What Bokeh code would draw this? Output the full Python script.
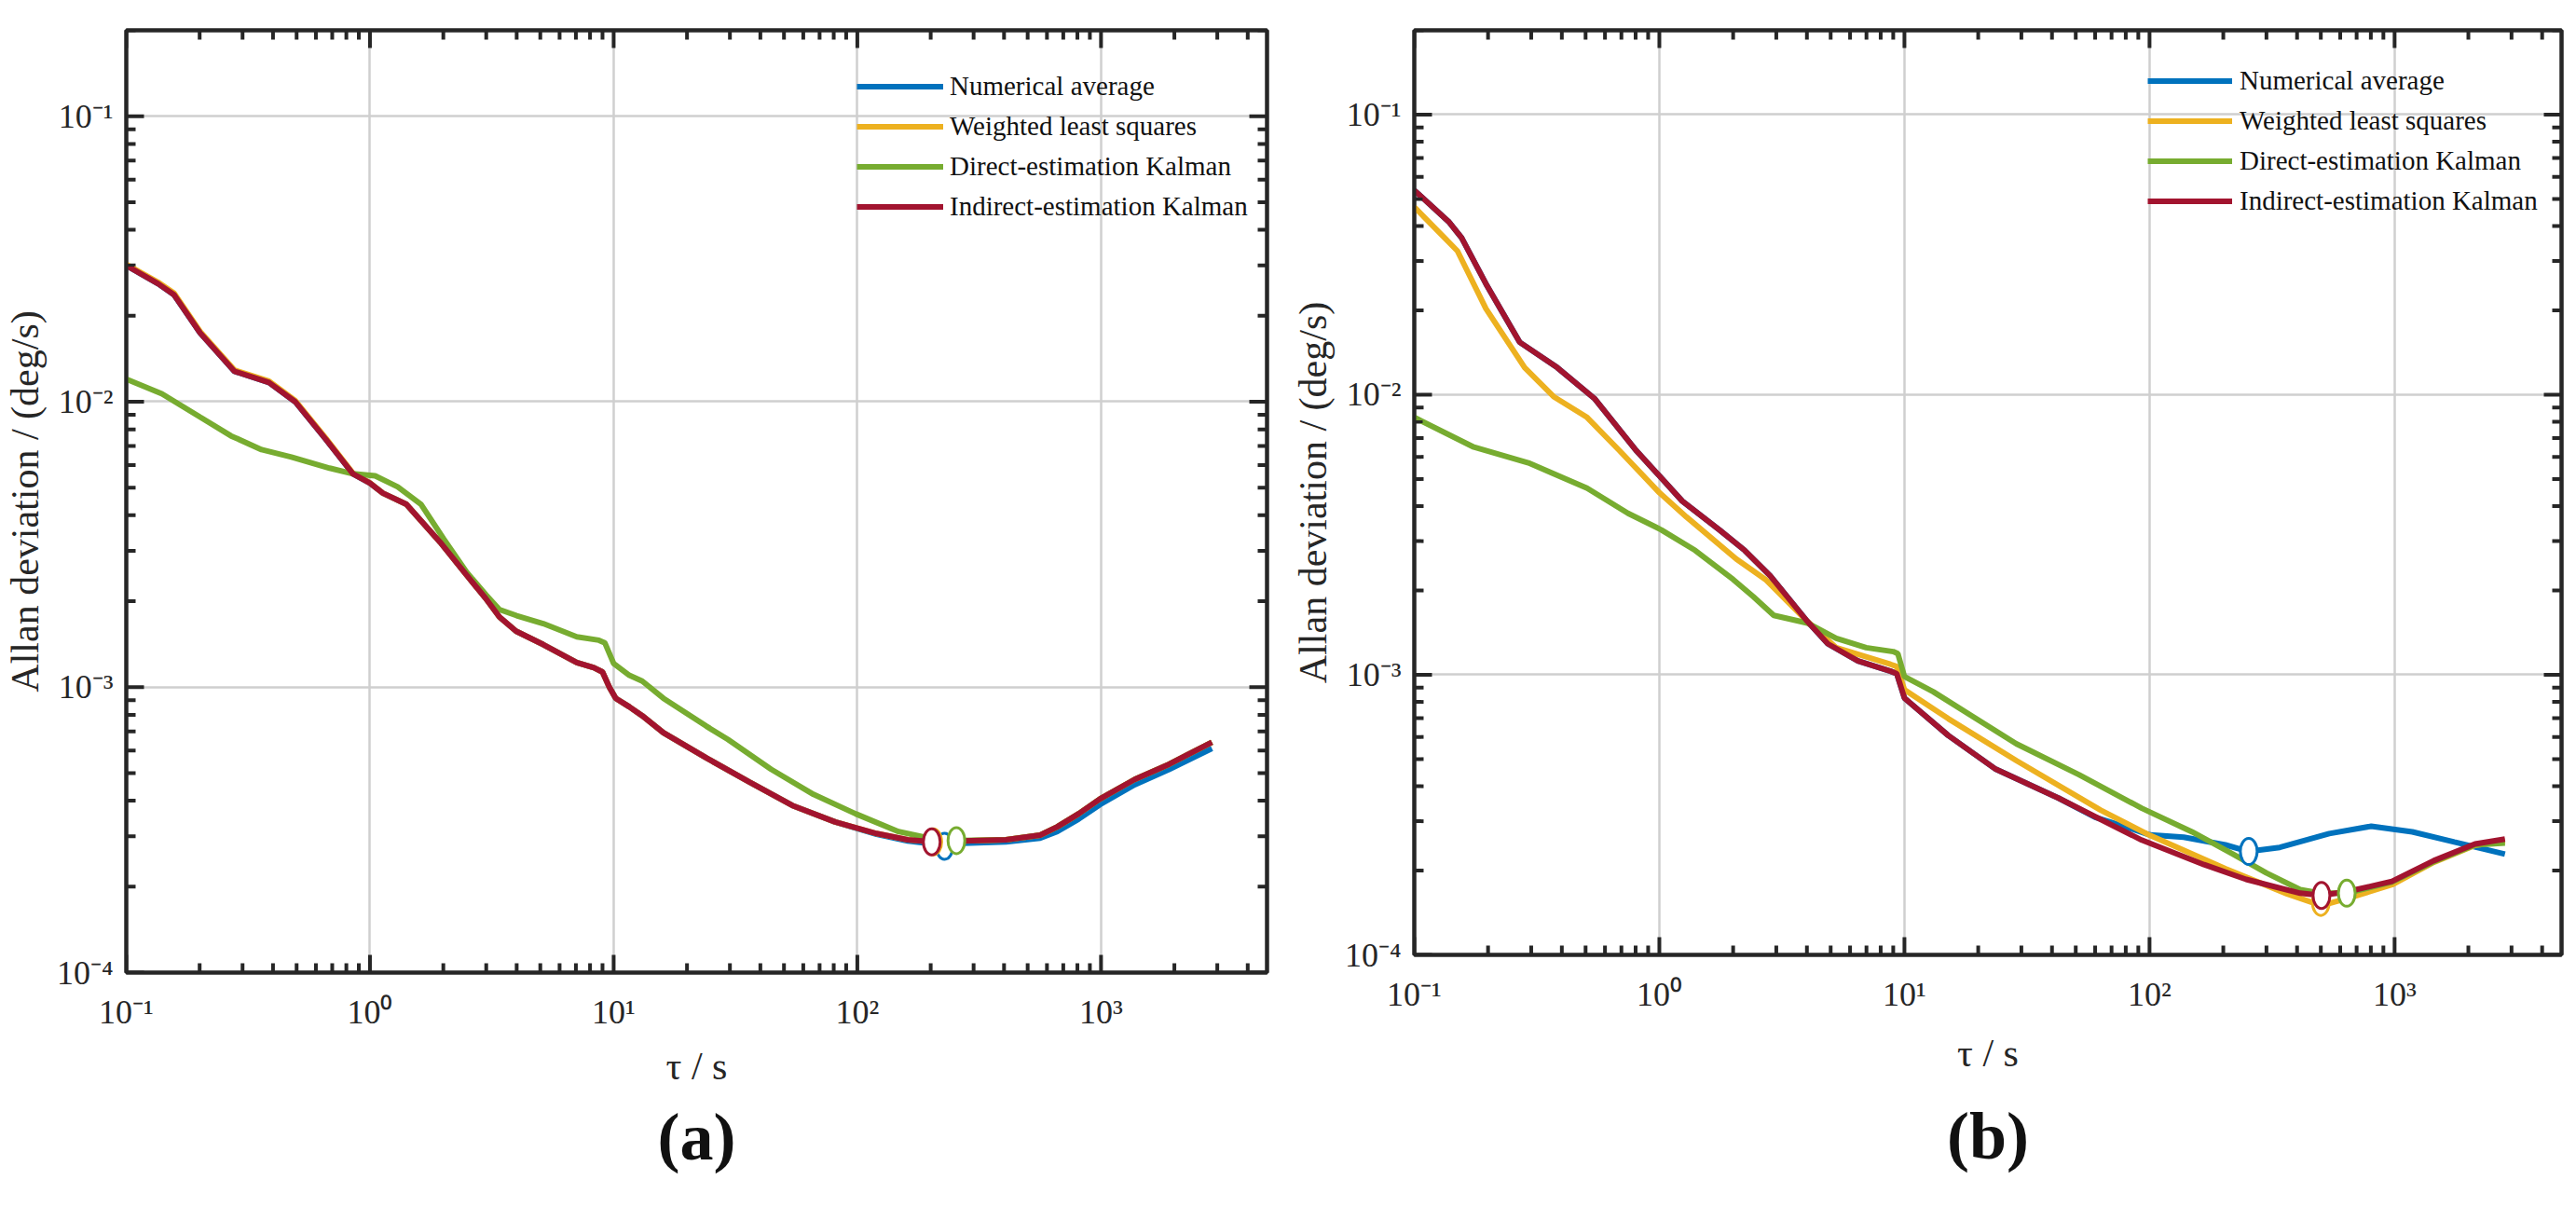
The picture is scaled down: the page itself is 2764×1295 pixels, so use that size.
from bokeh.plotting import figure
from bokeh.models import FixedTicker, LogAxis, Title
from bokeh.layouts import row
from bokeh.embed import file_html
from bokeh.resources import INLINE
import math

SERIES = ["Numerical average", "Weighted least squares",
          "Direct-estimation Kalman", "Indirect-estimation Kalman"]
COLORS = ["#0072BD", "#EDB120", "#77AC30", "#A2142F"]

X_TICKS = [0.1, 1, 10, 100, 1000]
X_TICK_LABELS = ["10⁻¹", "10⁰", "10¹", "10²", "10³"]
Y_TICKS = [1e-4, 1e-3, 1e-2, 1e-1]
Y_TICK_LABELS = ["10⁻⁴", "10⁻³", "10⁻²", "10⁻¹"]

# ---------------- panel (a) ----------------
tau_a_ind = [0.1, 0.135, 0.157, 0.201, 0.278, 0.385, 0.493, 0.659, 0.851, 1.0, 1.13, 1.41,
             1.94, 2.49, 2.98, 3.4, 3.98, 5.14, 7.06, 8.3, 9.0, 9.6, 10.2, 11.6, 13.1, 16.0,
             24.0, 36.1, 54.1, 81.1, 120, 161, 205, 271, 407, 563, 661, 809, 991, 1374,
             1903, 2852]
adev_a_ind = [0.030, 0.0259, 0.0237, 0.0174, 0.01277, 0.01167, 0.0100, 0.00738, 0.00559,
              0.00518, 0.00478, 0.00437, 0.00322, 0.00247, 0.00205, 0.00176, 0.00157,
              0.00141, 0.00122, 0.00117, 0.00113, 0.00100, 0.000914, 0.000853, 0.000794,
              0.000692, 0.000565, 0.000465, 0.000385, 0.000337, 0.000307, 0.000292,
              0.000287, 0.000289, 0.000292, 0.000303, 0.000324, 0.00036, 0.000406,
              0.000475, 0.000537, 0.000641]

tau_a_wls = tau_a_ind
adev_a_wls = [0.0303, 0.0262, 0.0240, 0.0176, 0.01290, 0.01180, 0.0101, 0.00745, 0.00562,
              0.00519, 0.00478, 0.00437, 0.00322, 0.00247, 0.00205, 0.00176, 0.00157,
              0.00141, 0.00122, 0.00117, 0.00113, 0.00100, 0.000914, 0.000853, 0.000794,
              0.000692, 0.000565, 0.000465, 0.000385, 0.000337, 0.000307, 0.000292,
              0.000287, 0.000289, 0.000292, 0.000303, 0.000324, 0.00036, 0.000406,
              0.000475, 0.000537, 0.000641]

tau_a_num = [0.1, 0.135, 0.157, 0.201, 0.278, 0.385, 0.493, 0.659, 0.851, 1.0, 1.13, 1.41,
             1.94, 2.49, 2.98, 3.4, 3.98, 5.14, 7.06, 8.3, 9.0, 9.6, 10.2, 11.6, 13.1, 16.0,
             24.0, 36.1, 54.1, 81.1, 120, 161, 205, 228, 271, 407, 563, 661, 809, 991,
             1374, 1903, 2852]
adev_a_num = [0.030, 0.0259, 0.0237, 0.0174, 0.01277, 0.01167, 0.0100, 0.00738, 0.00559,
              0.00518, 0.00478, 0.00437, 0.00322, 0.00247, 0.00205, 0.00176, 0.00157,
              0.00141, 0.00122, 0.00117, 0.00113, 0.00100, 0.000914, 0.000853, 0.000794,
              0.000692, 0.000565, 0.000465, 0.000385, 0.000337, 0.000305, 0.000289,
              0.000282, 0.000278, 0.000284, 0.000287, 0.000296, 0.000312, 0.000345,
              0.000388, 0.000455, 0.000515, 0.00061]

tau_a_dir = [0.1, 0.140, 0.201, 0.269, 0.359, 0.476, 0.683, 0.851, 1.05, 1.30, 1.62, 2.01,
             2.49, 3.0, 3.4, 4.0, 5.14, 7.06, 8.7, 9.2, 10.0, 11.6, 13.1, 16.0, 24.0, 29.4,
             44.2, 66.1, 98.4, 147.5, 189, 251, 300, 407, 563, 661, 809, 991, 1374, 1903,
             2852]
adev_a_dir = [0.0120, 0.01066, 0.00883, 0.00759, 0.00679, 0.0064, 0.00585, 0.00559, 0.0055,
              0.00503, 0.00437, 0.0033, 0.00253, 0.0021, 0.00187, 0.00178, 0.00167, 0.0015,
              0.00146, 0.00143, 0.00121, 0.0011, 0.00105, 0.000914, 0.00073, 0.000656,
              0.000516, 0.000421, 0.00036, 0.000312, 0.000298, 0.000290, 0.000291,
              0.000292, 0.000303, 0.000324, 0.00036, 0.000406, 0.000475, 0.000537,
              0.000641]

# minimum points (open circles), order: num, wls, dir, ind
min_tau_a = [228, 205, 255, 202]
min_adev_a = [0.000277, 0.000287, 0.00029, 0.000287]

# ---------------- panel (b) ----------------
tau_b_ind = [0.1, 0.138, 0.156, 0.196, 0.269, 0.383, 0.543, 0.807, 1.0, 1.24, 1.76, 2.23,
             2.83, 4.02, 4.87, 6.46, 8.77, 9.3, 10.0, 15.1, 23.6, 42.5, 92.9, 167, 248,
             412, 503, 656, 975, 1445, 2128, 2820]
adev_b_ind = [0.0537, 0.0415, 0.0363, 0.0249, 0.0154, 0.0125, 0.0097, 0.0063, 0.00513,
              0.00417, 0.00329, 0.00278, 0.00226, 0.00155, 0.00129, 0.00112, 0.00103,
              0.00101, 0.000826, 0.000607, 0.00046, 0.000363, 0.000257, 0.00021, 0.000186,
              0.000166, 0.000163, 0.000169, 0.000183, 0.000217, 0.000249, 0.000259]

tau_b_wls = [0.1, 0.15, 0.196, 0.282, 0.37, 0.507, 0.689, 1.0, 1.29, 2.06, 2.71, 4.02,
             5.27, 8.77, 9.3, 10.0, 15.1, 28.6, 63.1, 100.5, 204, 365, 503, 656, 975,
             1445, 2128, 2820]
adev_b_wls = [0.0468, 0.0326, 0.0203, 0.0125, 0.00985, 0.0083, 0.0063, 0.00447, 0.00366,
              0.00259, 0.00219, 0.00155, 0.00125, 0.00109, 0.00107, 0.000885, 0.000697,
              0.000494, 0.000329, 0.000267, 0.000203, 0.000165, 0.000150, 0.00016,
              0.000178, 0.000214, 0.000246, 0.000255]

tau_b_dir = [0.1, 0.175, 0.292, 0.507, 0.745, 1.02, 1.40, 2.0, 2.42, 2.93, 4.02, 5.27,
             6.98, 9.0, 9.4, 10.0, 13.1, 28.6, 51.5, 92.9, 149, 219, 300, 412, 503, 638,
             975, 1445, 2128, 2820]
adev_b_dir = [0.0083, 0.0065, 0.00571, 0.00464, 0.00377, 0.00329, 0.00278, 0.00219, 0.0019,
              0.00163, 0.00153, 0.00135, 0.00125, 0.00121, 0.00119, 0.000985, 0.00087,
              0.000567, 0.00044, 0.000334, 0.000275, 0.000229, 0.000196, 0.000171,
              0.000166, 0.000166, 0.000182, 0.000215, 0.000247, 0.000251]

tau_b_num = [0.1, 0.138, 0.156, 0.196, 0.269, 0.383, 0.543, 0.807, 1.0, 1.24, 1.76, 2.23,
             2.83, 4.02, 4.87, 6.46, 8.77, 9.3, 10.0, 15.1, 23.6, 42.5, 60, 76.6, 100.5,
             138, 204, 254, 340, 541, 803, 1181, 1753, 2820]
adev_b_num = [0.0537, 0.0415, 0.0363, 0.0249, 0.0154, 0.0125, 0.0097, 0.0063, 0.00513,
              0.00417, 0.00329, 0.00278, 0.00226, 0.00155, 0.00129, 0.00112, 0.00103,
              0.00101, 0.000826, 0.000607, 0.00046, 0.000363, 0.00031, 0.00029, 0.000268,
              0.000263, 0.000247, 0.000234, 0.000242, 0.000271, 0.000288, 0.000275,
              0.000253, 0.000229]

min_tau_b = [254, 500, 638, 503]
min_adev_b = [0.000234, 0.000154, 0.000166, 0.000163]

SERIF = "Liberation Serif"
DARK = "#262626"
X_LIM = (0.1, 4800)
Y_LIM = (1e-4, 0.2)


def make_panel(tag, data, mins, frame_w, frame_h, b_left, b_top, b_right, b_bottom,
               legend_pos, glyph_w, label_gap, xlabel_standoff, title_standoff):
    p = figure(x_axis_type="log", y_axis_type="log", x_range=X_LIM, y_range=Y_LIM,
               frame_width=frame_w, frame_height=frame_h,
               min_border_left=b_left, min_border_top=b_top,
               min_border_right=b_right, min_border_bottom=b_bottom,
               output_backend="svg", toolbar_location=None,
               background_fill_color="white", border_fill_color="white")
    bottom_ax = p.below[0]
    left_ax = p.left[0]
    xminor = [m * 10.0 ** e for e in range(-1, 4) for m in range(2, 10) if m * 10.0 ** e < X_LIM[1]]
    yminor = [m * 10.0 ** e for e in range(-4, 0) for m in range(2, 10) if m * 10.0 ** e <= Y_LIM[1]]
    xt = FixedTicker(ticks=X_TICKS, minor_ticks=xminor)
    yt = FixedTicker(ticks=Y_TICKS, minor_ticks=yminor)

    bottom_ax.ticker = xt
    left_ax.ticker = yt
    p.xgrid.ticker = xt
    p.ygrid.ticker = yt
    bottom_ax.major_label_overrides = dict(zip(X_TICKS, X_TICK_LABELS))
    left_ax.major_label_overrides = dict(zip(Y_TICKS, Y_TICK_LABELS))

    top_ax = LogAxis(ticker=xt)
    right_ax = LogAxis(ticker=yt)
    p.add_layout(top_ax, "above")
    p.add_layout(right_ax, "right")
    for ax in (bottom_ax, left_ax, top_ax, right_ax):
        ax.axis_line_color = DARK
        ax.axis_line_width = 4
        ax.major_tick_in = 18
        ax.major_tick_out = 0
        ax.minor_tick_in = 9
        ax.minor_tick_out = 0
        ax.major_tick_line_color = DARK
        ax.minor_tick_line_color = DARK
        ax.major_tick_line_width = 3
        ax.minor_tick_line_width = 3
        ax.major_label_text_font = SERIF
        ax.major_label_text_font_size = "36px"
        ax.major_label_text_color = DARK
        ax.axis_label_text_font = SERIF
        ax.axis_label_text_font_style = "normal"
        ax.axis_label_text_color = DARK
        ax.axis_label_text_font_size = "42px"
    for ax in (top_ax, right_ax):
        ax.major_label_text_font_size = "1px"
        ax.major_label_text_alpha = 0
        ax.major_label_standoff = 0
    bottom_ax.major_label_standoff = 22
    left_ax.major_label_standoff = 14
    bottom_ax.axis_label = "τ / s"
    bottom_ax.axis_label_standoff = xlabel_standoff
    left_ax.axis_label = "Allan deviation / (deg/s)"
    left_ax.axis_label_standoff = 8

    p.grid.grid_line_color = "#cfcfcf"
    p.grid.grid_line_width = 2.5
    p.outline_line_color = DARK
    p.outline_line_width = 4

    # inward tick marks along the frame, drawn as thin filled bars
    ppd_x = frame_w / (math.log10(X_LIM[1]) - math.log10(X_LIM[0]))
    ppd_y = frame_h / (math.log10(Y_LIM[1]) - math.log10(Y_LIM[0]))
    hx = 10 ** (2.0 / ppd_x)   # half tick thickness along x
    hy = 10 ** (2.0 / ppd_y)   # half tick thickness along y
    L, R, B, T = [], [], [], []
    for ticks, length in ((X_TICKS, 19), (xminor, 10)):
        f = 10 ** (length / ppd_y)
        for t in ticks:
            L += [t / hx, t / hx]; R += [t * hx, t * hx]
            B += [Y_LIM[0], Y_LIM[1] / f]; T += [Y_LIM[0] * f, Y_LIM[1]]
    for ticks, length in ((Y_TICKS, 19), (yminor, 10)):
        f = 10 ** (length / ppd_x)
        for t in ticks:
            B += [t / hy, t / hy]; T += [t * hy, t * hy]
            L += [X_LIM[0], X_LIM[1] / f]; R += [X_LIM[0] * f, X_LIM[1]]
    p.quad(left=L, right=R, bottom=B, top=T, fill_color=DARK, line_color=None)

    for (tx, ay), name, col in zip(data, SERIES, COLORS):
        p.line(tx, ay, line_color=col, line_width=6, legend_label=name)
    for mx, my, col in zip(mins[0], mins[1], COLORS):
        p.ellipse(x=[mx], y=[my], width=18, height=28, width_units="screen",
                  height_units="screen", fill_color="white", line_color=col, line_width=3)

    lg = p.legend[0]
    lg.location = legend_pos
    lg.border_line_alpha = 0
    lg.background_fill_alpha = 0
    lg.padding = 0
    lg.margin = 0
    lg.spacing = 0
    lg.glyph_width = glyph_w
    lg.glyph_height = 43
    lg.label_height = 43
    lg.label_standoff = label_gap
    lg.label_text_font = SERIF
    lg.label_text_font_size = "29px"
    lg.label_text_color = "#111111"

    p.add_layout(Title(text=tag, align="center", text_font=SERIF, text_font_size="72px",
                       text_font_style="bold", text_color="#111111",
                       standoff=title_standoff), "below")
    return p


data_a = [(tau_a_num, adev_a_num), (tau_a_wls, adev_a_wls),
          (tau_a_dir, adev_a_dir), (tau_a_ind, adev_a_ind)]
data_b = [(tau_b_num, adev_b_num), (tau_b_wls, adev_b_wls),
          (tau_b_dir, adev_b_dir), (tau_b_ind, adev_b_ind)]

p1 = make_panel("(a)", data_a, (min_tau_a, min_adev_a), 1224, 1011, 125, 22, 23, 246,
                (784, 800), 93, 7, 12, 16)
p2 = make_panel("(b)", data_b, (min_tau_b, min_adev_b), 1231, 992, 128, 32, 17, 255,
                (787, 787), 91, 8, 17, 42)

layout = row(p1, p2)
open("out.html", "w").write(file_html(layout, INLINE))
